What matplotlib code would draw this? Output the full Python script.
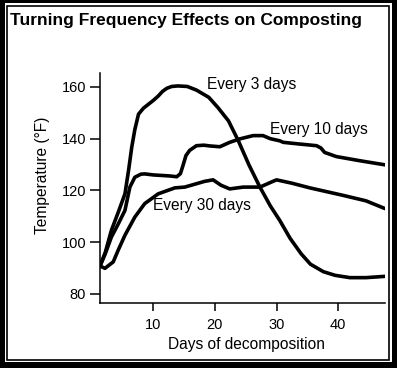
import matplotlib
matplotlib.use('Agg')
import matplotlib.pyplot as plt
from matplotlib.patches import Rectangle

# ==================== data ====================
days_3 = [1.35, 2.2, 3.2, 4.3, 5.4, 6.0, 6.5, 7.0, 7.6, 8.4, 9.2, 10.0, 10.8, 11.5,
          12.2, 13.0, 14.0, 15.5, 17.0, 19.0, 20.5, 22.2, 23.8, 25.5, 27.3, 29.0,
          30.5, 32.2, 34.0, 35.5, 37.6, 39.5, 41.9, 44.5, 47.6]
temp_3 = [90.8, 96, 104.6, 111.5, 118.7, 128, 136.7, 143.5, 149.5, 151.8, 153.3, 154.8,
          156.5, 158.3, 159.5, 160.2, 160.4, 160.2, 158.8, 156, 152, 146.9, 139.2, 130,
          121.3, 114, 108.5, 101.5, 95.5, 91.5, 88.6, 87.2, 86.3, 86.3, 86.8]

days_10 = [1.35, 2.2, 3.2, 4.3, 5.4, 6.2, 7.0, 8.0, 8.6, 10.0, 11.35, 12.7, 13.8, 14.4,
           14.8, 15.3, 15.9, 17.0, 18.2, 19.2, 20.8, 22.4, 24.0, 26.2, 27.8, 29.0,
           30.5, 31.1, 33.5, 36.5, 37.2, 37.8, 39.7, 43.5, 47.6]
temp_10 = [90.8, 95.5, 102, 107, 112.3, 121.3, 125.1, 126.3, 126.4, 126, 125.8, 125.6,
           125.3, 126.5, 129.5, 133.5, 135.5, 137.3, 137.5, 137.2, 136.9, 138.6, 139.9,
           141.2, 141.2, 140, 139.2, 138.6, 138, 137.3, 136.4, 134.7, 133.1, 131.5, 129.9]

days_30 = [1.35, 2.16, 3.5, 4.3, 5.4, 7.0, 8.6, 10.8, 13.5, 15.1, 17.0, 18.3, 19.7,
           21.0, 22.4, 24.6, 27.3, 29.4, 30.0, 32.5, 35.4, 40.8, 44.5, 47.6]
temp_30 = [90.8, 89.9, 92.4, 96.9, 102.7, 109.7, 114.9, 118.7, 121, 121.3, 122.6, 123.5,
           124.1, 122, 120.6, 121.3, 121.3, 123.5, 124.1, 122.8, 121, 118.1, 116, 113]

x_ticks = [10, 20, 30, 40]
y_ticks = [80, 100, 120, 140, 160]

plt.rcParams['font.family'] = ['Liberation Sans', 'DejaVu Sans']

# ==================== figure ====================
W, H = 397, 368
fig = plt.figure(figsize=(W / 100, H / 100), dpi=100)
fig.patch.set_facecolor('black')

# double frame
fig.patches.append(Rectangle((5 / W, 6 / H), 387 / W, 359 / H, transform=fig.transFigure,
                             facecolor='white', edgecolor='none', zorder=0))
fig.patches.append(Rectangle((6.7 / W, 8.5 / H), 382.6 / W, 353.8 / H, transform=fig.transFigure,
                             facecolor='none', edgecolor='black', linewidth=1.2, zorder=1))

ax = fig.add_axes([100 / W, 65 / H, 285 / W, 230 / H])
ax.set_zorder(5)
ax.set_facecolor('none')

for d, t in [(days_3, temp_3), (days_10, temp_10), (days_30, temp_30)]:
    ax.plot(d, t, color='black', linewidth=2.6, solid_joinstyle='round', solid_capstyle='round')

ax.set_xlim(1.35, 47.6)
ax.set_ylim(76.5, 165.4)
ax.set_xticks(x_ticks)
ax.set_yticks(y_ticks)
ax.spines['top'].set_visible(False)
ax.spines['right'].set_visible(False)
for s in ['left', 'bottom']:
    ax.spines[s].set_linewidth(1.1)
ax.tick_params(axis='x', direction='out', length=6, width=1.1, pad=5, labelsize=10.5)
ax.tick_params(axis='y', direction='out', length=7, width=1.1, pad=3, labelsize=10.5)

ax.text(18.65, 160.8, 'Every 3 days', fontsize=11.2, va='center', ha='left')
ax.text(28.9, 143.7, 'Every 10 days', fontsize=11.2, va='center', ha='left')
ax.text(10.0, 114.2, 'Every 30 days', fontsize=11.2, va='center', ha='left')

fig.text(43 / W, 1 - 175 / H, 'Temperature (°F)', rotation=90, ha='center', va='center',
         fontsize=11.2)
fig.text(246.7 / W, 1 - 345 / H, 'Days of decomposition', ha='center', va='center',
         fontsize=11.2)
fig.text(10 / W, 1 - 25 / H, 'Turning Frequency Effects on Composting', ha='left',
         va='baseline', fontsize=12.5, fontweight='bold')

plt.savefig('out.png', dpi=100)
plt.close()
